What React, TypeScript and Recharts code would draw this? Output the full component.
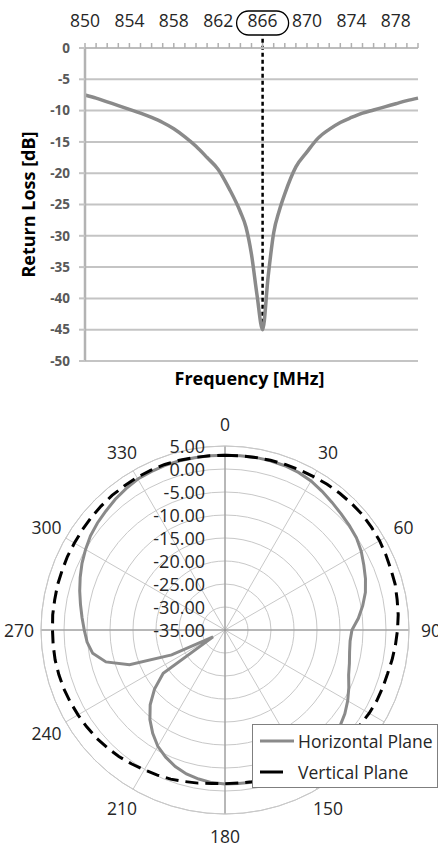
import React from 'react'
import {
  LineChart,
  Line,
  XAxis,
  YAxis,
  CartesianGrid,
  ReferenceLine,
  RadarChart,
  Radar,
  PolarGrid,
  PolarAngleAxis,
  PolarRadiusAxis,
  Legend,
} from 'recharts'

// --- return loss sweep ---
const freqs = [
  850, 851, 852, 853, 854, 855, 856, 857, 858, 859, 860, 861, 862, 863, 864, 864.5, 865, 865.5, 866,
  866.5, 867, 867.5, 868, 869, 870, 871, 872, 873, 874, 875, 876, 877, 878, 879, 880,
]
const returnLoss = [
  -7.5, -8.0, -8.6, -9.2, -9.8, -10.4, -11.1, -11.9, -12.9, -14.2, -15.7, -17.5, -19.4, -22.5, -26.2,
  -28.6, -33, -39.5, -45, -36.5, -29.5, -26.0, -23.3, -19.0, -16.6, -14.4, -13.0, -11.9, -11.1, -10.4,
  -9.9, -9.4, -8.9, -8.4, -8.0,
]
const freqTicks = [
  850, 851, 852, 853, 854, 855, 856, 857, 858, 859, 860, 861, 862, 863, 864, 865, 866, 867, 868, 869,
  870, 871, 872, 873, 874, 875, 876, 877, 878, 879, 880,
]
const freqLabels = [850, 854, 858, 862, 866, 870, 874, 878]
const dbTicks = [0, -5, -10, -15, -20, -25, -30, -35, -40, -45, -50]
const resonance = 866
const resonanceLoss = -45

// --- radiation pattern (dB), every 5 degrees ---
const angles = [
  0, 5, 10, 15, 20, 25, 30, 35, 40, 45, 50, 55, 60, 65, 70, 75, 80, 85, 90, 95, 100, 105, 110, 115,
  120, 125, 130, 135, 140, 145, 150, 155, 160, 165, 170, 175, 180, 185, 190, 195, 200, 205, 210, 215,
  220, 225, 230, 235, 240, 245, 250, 255, 260, 265, 270, 275, 280, 285, 290, 295, 300, 305, 310, 315,
  320, 325, 330, 335, 340, 345, 350, 355,
]
const horizontalPlane = [
  3.0, 3.0, 3.1, 3.1, 3.0, 2.8, 2.4, 1.8, 1.2, 0.7, 0.3, -0.1, -0.8, -1.7, -2.5, -3.4, -4.6, -5.9,
  -7.4, -7.7, -7.5, -7.0, -6.4, -5.3, -4.2, -3.2, -2.4, -1.7, -1.0, -0.5, -0.4, -0.6, -0.9, -1.2,
  -1.4, -1.5, -1.5, -1.7, -2.1, -2.6, -3.4, -4.5, -5.8, -7.6, -9.6, -12.0, -15.0, -18.6, -32.0, -22.2,
  -12.9, -8.2, -5.8, -4.9, -4.4, -3.8, -3.1, -2.3, -1.5, -0.7, 0.0, 0.7, 1.2, 1.6, 2.1, 2.5, 2.9,
  3.0, 3.1, 3.1, 3.0, 3.0,
]
const verticalPlane = [
  3.0, 3.0, 3.1, 3.2, 3.3, 3.4, 3.5, 3.7, 3.8, 3.9, 4.0, 3.9, 3.8, 3.6, 3.4, 3.3, 3.0, 2.8, 2.5, 2.2,
  1.9, 1.6, 1.5, 1.4, 1.2, 0.9, 0.6, 0.3, 0.0, -0.3, -0.6, -0.9, -1.1, -1.3, -1.5, -1.6, -1.6, -1.5,
  -1.2, -0.9, -0.5, -0.2, 0.1, 0.5, 0.9, 1.2, 1.5, 1.7, 1.9, 2.1, 2.3, 2.4, 2.5, 2.5, 2.5, 2.6, 2.6,
  2.7, 2.7, 2.8, 2.8, 2.9, 3.0, 3.1, 3.2, 3.2, 3.3, 3.3, 3.3, 3.2, 3.1, 3.0,
]
const angleLabels = [0, 30, 60, 90, 120, 150, 180, 210, 240, 270, 300, 330]
const axisAngles = [0, 90, 180, 270]
const radiusTicks = [-35, -30, -25, -20, -15, -10, -5, 0, 5]

const FONT = '"Open Sans", sans-serif'

const rlData = freqs.map((f, i) => ({ f, rl: returnLoss[i] }))
const patternData = angles.map((a, i) => ({
  angle: a,
  h: horizontalPlane[i],
  v: verticalPlane[i],
}))

const FreqTick = (props: any) => {
  const { x, y, payload } = props
  if (!freqLabels.includes(payload.value)) return <g />
  const marked = payload.value === resonance
  return (
    <g>
      {marked && (
        <rect x={x - 26} y={y - 30} width={52} height={24} rx={12} fill="none" stroke="#000" strokeWidth={1.3} />
      )}
      <text x={x} y={y - 14} textAnchor="middle" fontFamily={FONT} fontSize={17.5} fill="#262626">
        {payload.value}
      </text>
    </g>
  )
}

const YTitle = (props: any) => {
  const vb = props.viewBox
  const cx = vb.x + 28
  const cy = vb.y + vb.height / 2
  return (
    <text
      x={cx}
      y={cy}
      transform={`rotate(-90 ${cx} ${cy})`}
      textAnchor="middle"
      dominantBaseline="central"
      fontFamily={FONT}
      fontWeight={700}
      fontSize={18}
      fill="#000"
    >
      Return Loss [dB]
    </text>
  )
}

const XTitle = (props: any) => {
  const vb = props.viewBox
  return (
    <text
      x={vb.x + vb.width / 2 - 2}
      y={vb.y + 24}
      textAnchor="middle"
      fontFamily={FONT}
      fontWeight={700}
      fontSize={18}
      fill="#000"
    >
      Frequency [MHz]
    </text>
  )
}

const AngleTick = (props: any) => {
  const { x, y, payload } = props
  if (!angleLabels.includes(payload.value)) return <g />
  return (
    <text x={x} y={y} textAnchor="middle" dominantBaseline="central" fontFamily={FONT} fontSize={17.5} fill="#262626">
      {payload.value}
    </text>
  )
}

const RadiusTick = (props: any) => {
  const { x, y, payload } = props
  return (
    <text x={x - 20} y={y} textAnchor="end" dominantBaseline="central" fontFamily={FONT} fontSize={18} fill="#262626">
      {Number(payload.value).toFixed(2)}
    </text>
  )
}

const PatternLegend = (props: any) => {
  const items = props.payload || []
  return (
    <div
      style={{
        width: 186,
        height: 64,
        boxSizing: 'border-box',
        border: '1.5px solid #7f7f7f',
        background: '#fff',
        fontFamily: FONT,
        fontSize: 17.5,
        color: '#262626',
      }}
    >
      {items.map((it: any) => {
        const dashed = !!it.payload?.strokeDasharray
        return (
          <div key={it.value} style={{ display: 'flex', alignItems: 'center', height: 31, paddingLeft: 7 }}>
            <svg width={38} height={10}>
              <line x1={0} y1={5} x2={dashed ? 23 : 34} y2={5} stroke={it.color} strokeWidth={3} />
            </svg>
            <span style={{ whiteSpace: 'nowrap' }}>{it.value}</span>
          </div>
        )
      })}
    </div>
  )
}

export default function App() {
  return (
    <div style={{ position: 'absolute', left: 0, top: 0, width: 438, height: 846, background: '#fff' }}>
      <LineChart width={438} height={400} data={rlData} margin={{ top: 0, right: 20, left: 0, bottom: 9 }}>
        <CartesianGrid vertical={false} stroke="#c4c4c4" strokeWidth={2} />
        <XAxis
          dataKey="f"
          type="number"
          orientation="top"
          domain={[850, 880]}
          ticks={freqTicks}
          interval={0}
          height={48}
          tickSize={5}
          tickMargin={2}
          axisLine={{ stroke: '#bdbdbd', strokeWidth: 2 }}
          tickLine={{ stroke: '#b0b0b0', strokeWidth: 1.5 }}
          tick={<FreqTick />}
        />
        <XAxis
          xAxisId="b"
          type="number"
          orientation="bottom"
          domain={[850, 880]}
          height={30}
          tick={false}
          axisLine={false}
          tickLine={false}
          label={<XTitle />}
        />
        <YAxis
          type="number"
          domain={[-50, 0]}
          ticks={dbTicks}
          interval={0}
          width={85}
          tickSize={6}
          tickMargin={9}
          axisLine={{ stroke: '#b3b3b3', strokeWidth: 2.5 }}
          tickLine={{ stroke: '#c4c4c4', strokeWidth: 2 }}
          tick={{ fill: '#595959', fontSize: 13.5, fontWeight: 700, fontFamily: FONT }}
          label={<YTitle />}
        />
        <ReferenceLine
          segment={[
            { x: resonance, y: resonanceLoss },
            { x: resonance, y: 2 },
          ]}
          ifOverflow="visible"
          stroke="#000"
          strokeWidth={2.5}
          strokeDasharray="4 3"
        />
        <Line
          dataKey="rl"
          type="monotone"
          stroke="#8a8a8a"
          strokeWidth={3.5}
          dot={false}
          isAnimationActive={false}
        />
      </LineChart>

      <RadarChart
        width={438}
        height={446}
        data={patternData}
        cx={225}
        cy={230}
        outerRadius={184}
        margin={{ top: 0, right: 0, bottom: 0, left: 0 }}
      >
        <PolarGrid gridType="circle" polarAngles={angleLabels.map((a) => 90 - a)} stroke="#c8c8c8" />
        <PolarGrid gridType="circle" polarAngles={axisAngles.map((a) => 90 - a)} polarRadius={[]} stroke="#8c8c8c" />
        <PolarAngleAxis
          dataKey="angle"
          tickSize={22}
          tickLine={false}
          axisLine={{ stroke: '#c8c8c8' }}
          axisLineType="circle"
          tick={<AngleTick />}
        />
        <PolarRadiusAxis
          angle={90}
          domain={[-35, 5]}
          ticks={radiusTicks as any}
          tickCount={9}
          axisLine={false}
          tickLine={false}
          tick={<RadiusTick />}
        />
        <Radar
          name="Horizontal Plane"
          dataKey="h"
          stroke="#8a8a8a"
          strokeWidth={3}
          fill="none"
          fillOpacity={0}
          dot={false}
          isAnimationActive={false}
        />
        <Radar
          name="Vertical Plane"
          dataKey="v"
          stroke="#000"
          strokeWidth={3}
          strokeDasharray="13 7"
          fill="none"
          fillOpacity={0}
          dot={false}
          isAnimationActive={false}
        />
        <Legend
          content={<PatternLegend />}
          wrapperStyle={{ position: 'absolute', left: 252, top: 324, width: 186, height: 64 }}
        />
      </RadarChart>
    </div>
  )
}
